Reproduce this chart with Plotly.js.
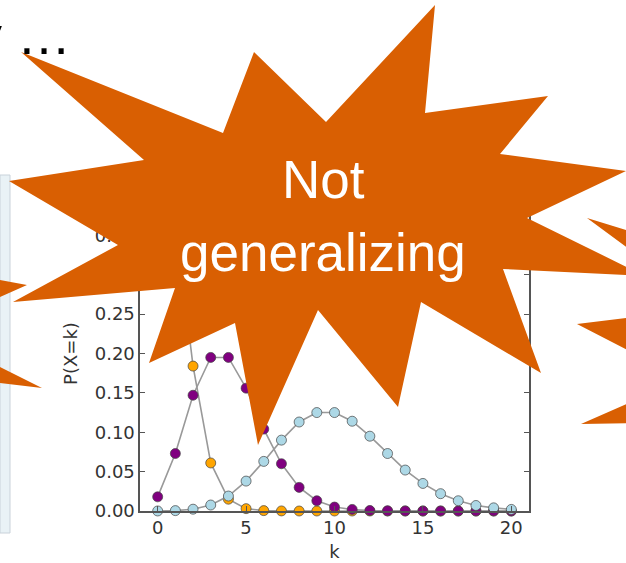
<!DOCTYPE html>
<html>
<head>
<meta charset="utf-8">
<script src="https://cdn.plot.ly/plotly-3.0.1.min.js"></script>
<style>html,body{margin:0;padding:0;background:#fff;}#chart{width:626px;height:563px;}</style>
</head>
<body>
<div id="chart"></div>
<script>
// ---- data ----
const kValues = [0,1,2,3,4,5,6,7,8,9,10,11,12,13,14,15,16,17,18,19,20];
const lambda1 = [0.368,0.368,0.184,0.061,0.015,0.003,0.0005,0.0001,0,0,0,0,0,0,0,0,0,0,0,0,0];
const lambda4 = [0.018,0.073,0.147,0.195,0.195,0.156,0.104,0.060,0.030,0.013,0.005,0.002,0.0006,0.0002,0.0001,0,0,0,0,0,0];
const lambda10 = [0.00005,0.0005,0.0023,0.0076,0.019,0.038,0.063,0.090,0.113,0.125,0.125,0.114,0.095,0.073,0.052,0.035,0.022,0.013,0.007,0.004,0.002];
const seriesColors = ['#ffa500','#800080','#add8e6'];
const xTickVals = [0,5,10,15,20];
const yTickVals = [0,0.05,0.10,0.15,0.20,0.25,0.30,0.35,0.40];
const xTitle = 'k';
const yTitle = 'P(X=k)';

// ---- page geometry ----
const W = 626, H = 563;
const M = {l:140, r:97, t:196, b:52};
const toX = px => (px - M.l) / (W - M.l - M.r);
const toY = py => (H - M.b - py) / (H - M.t - M.b);
const pathFrom = pts => 'M' + pts.map(p => toX(p[0]).toFixed(5) + ',' + toY(p[1]).toFixed(5)).join('L') + 'Z';

// decoration outlines (pixel positions on the slide)
const mainBurst = [[21,52],[223,133],[254,52],[326,122],[435,5],[425,113],[548,96],[500,154],[626,171],[527,218],[645,276],[503,269],[541,373],[421,302],[398,407],[318,310],[258,445],[235,323],[149,363],[175,288],[13,302],[118,245],[9,181],[144,160]];
const rightBurst = [[587,218],[709,308],[577,324],[684,379],[581,424],[800,420],[800,284]];
const leftBurst = [[-100,262],[27,285],[-74,330],[42,388],[-100,371]];
const orange = '#d95f02';

const lineStyle = {color:'#999999', width:1.6};
const traces = [lambda1, lambda4, lambda10].map((ys, i) => ({
  type:'scatter', mode:'lines+markers', x:kValues, y:ys,
  line:lineStyle, cliponaxis:false, showlegend:false,
  marker:{size:10, color:seriesColors[i], line:{color:'#444', width:0.7}}
}));

const axisFont = {family:'DejaVu Sans', size:18, color:'#333'};
const axisCommon = {
  showline:true, linecolor:'#555', linewidth:1.6, mirror:'ticks',
  ticks:'inside', ticklen:5, tickwidth:1, tickcolor:'#555',
  showgrid:false, zeroline:false, tickfont:axisFont
};

const layout = {
  width:W, height:H, margin:M,
  paper_bgcolor:'#fff', plot_bgcolor:'#fff',
  showlegend:false,
  xaxis:Object.assign({}, axisCommon, {range:[-1,21], tickvals:xTickVals, ticktext:xTickVals.map(String),
    title:{text:xTitle, font:axisFont, standoff:8}}),
  yaxis:Object.assign({}, axisCommon, {range:[0,0.4], tickvals:yTickVals, ticktext:yTickVals.map(v=>v.toFixed(2)),
    title:{text:yTitle, font:axisFont, standoff:12}}),
  shapes:[
    {type:'rect', xref:'paper', yref:'paper', x0:toX(0), x1:toX(10), y0:toY(533), y1:toY(175),
     fillcolor:'#e9f2f6', line:{color:'#c9d2da', width:1}, layer:'above'},
    {type:'path', xref:'paper', yref:'paper', path:pathFrom(leftBurst), fillcolor:orange, line:{width:0}, layer:'above'},
    {type:'path', xref:'paper', yref:'paper', path:pathFrom(rightBurst), fillcolor:orange, line:{width:0}, layer:'above'},
    {type:'path', xref:'paper', yref:'paper', path:pathFrom(mainBurst), fillcolor:orange, line:{width:0}, layer:'above'}
  ],
  annotations:[
    {xref:'paper', yref:'paper', x:toX(323), y:toY(179.5), xanchor:'center', yanchor:'middle', showarrow:false,
     text:'Not', font:{family:'Liberation Sans, Arial', size:53, color:'#ffffff'}},
    {xref:'paper', yref:'paper', x:toX(323), y:toY(252.5), xanchor:'center', yanchor:'middle', showarrow:false,
     text:'generalizing', font:{family:'Liberation Sans, Arial', size:53, color:'#ffffff'}},
    {xref:'paper', yref:'paper', x:toX(-27), y:toY(35.3), xanchor:'left', yanchor:'middle', showarrow:false,
     text:'y …', font:{family:'Liberation Sans, Arial', size:54, color:'#000000'}}
  ]
};

Plotly.newPlot('chart', traces, layout, {displayModeBar:false, staticPlot:true});
</script>
</body>
</html>
